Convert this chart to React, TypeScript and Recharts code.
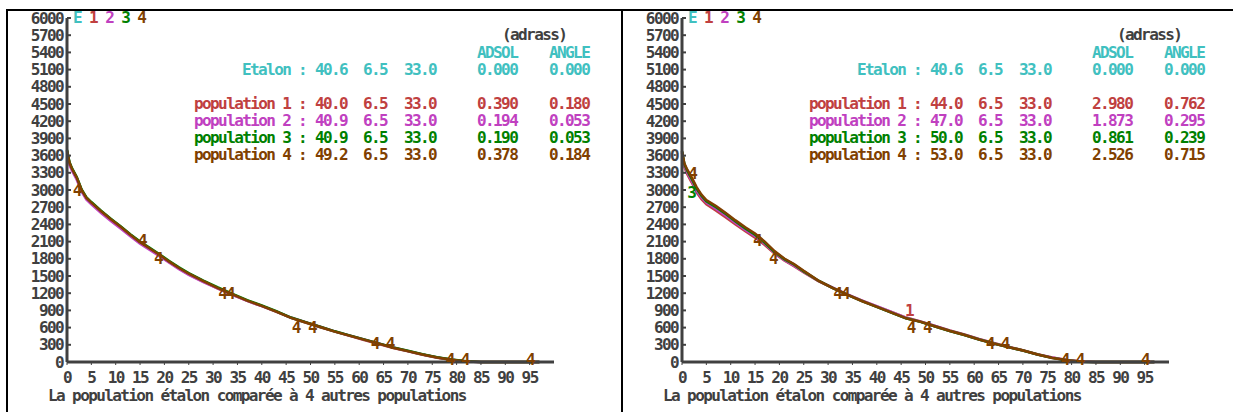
import React from "react";
import { ComposedChart, Line, Scatter, XAxis, YAxis } from "recharts";

const X = [0, 0.5, 1, 2, 3, 4, 5, 7, 9, 11, 13, 15, 17, 19, 21, 23, 25, 28, 31, 34, 37, 40, 43, 46, 49, 52, 55, 58, 61, 64, 67, 70, 73, 76, 79, 82, 85, 90, 97];

// left panel (4 populations almost identical to the etalon)
const L_E = [3690, 3480, 3374, 3217, 3000, 2860, 2780, 2630, 2490, 2360, 2220, 2090, 1980, 1870, 1750, 1640, 1540, 1410, 1290, 1180, 1070, 980, 880, 770, 690, 610, 530, 460, 390, 320, 250, 190, 130, 80, 40, 10, 0, 0, 0];
const L_P1 = [3680, 3470, 3360, 3200, 2990, 2850, 2770, 2620, 2480, 2350, 2210, 2080, 1970, 1860, 1740, 1630, 1530, 1400, 1280, 1170, 1065, 975, 875, 770, 690, 605, 530, 455, 385, 315, 245, 185, 125, 75, 35, 8, 0, 0, 0];
const L_P2 = [3660, 3440, 3340, 3180, 2970, 2830, 2750, 2600, 2460, 2330, 2195, 2065, 1955, 1845, 1730, 1620, 1520, 1395, 1280, 1170, 1065, 975, 880, 775, 695, 615, 535, 462, 392, 322, 252, 192, 132, 80, 40, 10, 0, 0, 0];
const L_P3 = [3700, 3490, 3385, 3225, 3010, 2870, 2790, 2640, 2500, 2370, 2230, 2100, 1990, 1880, 1760, 1650, 1550, 1420, 1300, 1190, 1080, 985, 885, 775, 695, 615, 535, 465, 395, 325, 255, 195, 135, 82, 42, 12, 0, 0, 0];
const L_P4 = [3690, 3480, 3374, 3217, 3000, 2860, 2780, 2630, 2490, 2360, 2220, 2090, 1980, 1870, 1750, 1640, 1540, 1410, 1290, 1180, 1070, 980, 880, 770, 690, 610, 530, 460, 390, 320, 250, 190, 130, 80, 40, 10, 0, 0, 0];

// right panel
const R_E = [3670, 3445, 3350, 3195, 3025, 2900, 2805, 2700, 2580, 2450, 2330, 2220, 2080, 1920, 1795, 1700, 1580, 1418, 1290, 1170, 1062, 962, 862, 762, 700, 620, 540, 470, 392, 322, 260, 200, 130, 72, 32, 6, 0, 0, 0];
const R_P1 = [3650, 3400, 3290, 3130, 2960, 2840, 2750, 2640, 2520, 2400, 2280, 2170, 2040, 1890, 1770, 1670, 1560, 1410, 1290, 1175, 1070, 970, 875, 775, 705, 630, 550, 480, 400, 330, 265, 205, 135, 80, 35, 8, 0, 0, 0];
const R_P2 = [3660, 3420, 3320, 3160, 2990, 2870, 2780, 2670, 2550, 2425, 2305, 2195, 2060, 1905, 1780, 1680, 1570, 1415, 1295, 1178, 1072, 972, 872, 772, 705, 628, 548, 478, 398, 328, 262, 202, 132, 78, 36, 8, 0, 0, 0];
const R_P3 = [3670, 3445, 3350, 3195, 3025, 2900, 2805, 2700, 2580, 2450, 2330, 2220, 2080, 1920, 1795, 1700, 1580, 1418, 1290, 1170, 1062, 962, 862, 762, 700, 620, 540, 470, 392, 322, 260, 200, 130, 72, 32, 6, 0, 0, 0];
const R_P4 = [3680, 3460, 3370, 3220, 3050, 2920, 2825, 2720, 2600, 2470, 2350, 2240, 2100, 1935, 1805, 1710, 1590, 1420, 1290, 1170, 1060, 960, 860, 760, 700, 620, 540, 470, 390, 320, 260, 200, 130, 70, 30, 5, 0, 0, 0];

// curve labels drawn by the old plotter
const L_MARK_X = [2.0, 15.4, 18.7, 31.9, 33.5, 47.0, 50.3, 63.2, 66.3, 78.6, 81.7, 95.1];
const L_MARK_Y = [2991, 2122, 1809, 1200, 1200, 609, 609, 330, 330, 35, 35, 35];
const L_MARK_T = ["4", "4", "4", "4", "4", "4", "4", "4", "4", "4", "4", "4"];
const R_MARK_X = [2.1, 1.9, 15.4, 18.7, 31.9, 33.5, 46.6, 47.0, 50.3, 63.2, 66.3, 78.6, 81.7, 95.1];
const R_MARK_Y = [3287, 2956, 2122, 1809, 1200, 1200, 904, 609, 609, 330, 330, 35, 35, 35];
const R_MARK_T = ["4", "3", "4", "4", "4", "4", "1", "4", "4", "4", "4", "4", "4", "4"];

const Y_TICKS = [0, 300, 600, 900, 1200, 1500, 1800, 2100, 2400, 2700, 3000, 3300, 3600, 3900, 4200, 4500, 4800, 5100, 5400, 5700, 6000];
const X_TICKS = [0, 5, 10, 15, 20, 25, 30, 35, 40, 45, 50, 55, 60, 65, 70, 75, 80, 85, 90, 95];

const NAMES = ["Etalon", "population 1", "population 2", "population 3", "population 4"];
const L_COL1 = ["40.6", "40.0", "40.9", "40.9", "49.2"];
const R_COL1 = ["40.6", "44.0", "47.0", "50.0", "53.0"];
const COL2 = ["6.5", "6.5", "6.5", "6.5", "6.5"];
const COL3 = ["33.0", "33.0", "33.0", "33.0", "33.0"];
const L_ADSOL = ["0.000", "0.390", "0.194", "0.190", "0.378"];
const L_ANGLE = ["0.000", "0.180", "0.053", "0.053", "0.184"];
const R_ADSOL = ["0.000", "2.980", "1.873", "0.861", "2.526"];
const R_ANGLE = ["0.000", "0.762", "0.295", "0.239", "0.715"];

const COLORS = ["#40c0c0", "#c04040", "#c040c0", "#008000", "#804000"];
const GRAY = "#404040";
const FONT = { fontFamily: "'DejaVu Sans Mono', monospace", fontWeight: 700, fontSize: 16, letterSpacing: -1.6 };

function YTick({ x, y, payload }: any) {
  return (
    <g>
      <text x={x} y={y} dy={5.5} textAnchor="end" fill={GRAY} style={FONT}>{payload.value}</text>
      <line x1={x + 4} x2={x + 8} y1={y} y2={y} stroke={GRAY} strokeWidth={2} />
    </g>
  );
}

function XTick({ x, y, payload }: any) {
  return (
    <text x={x} y={y} dy={18} textAnchor="middle" fill={GRAY} style={FONT}>{payload.value}</text>
  );
}

function Mark({ cx, cy, payload }: any) {
  return (
    <text x={cx} y={cy} dy={5.5} textAnchor="middle" fill={payload.c} style={FONT}>{payload.t}</text>
  );
}

function Txt({ x, y, color, children }: { x: number; y: number; color: string; children: React.ReactNode }) {
  return (
    <div style={{ position: "absolute", left: x, top: y - 9, lineHeight: "18px", whiteSpace: "pre", color, ...FONT, fontSize: 16 }}>
      {children}
    </div>
  );
}

const ROW_Y = [70, 104, 121, 138, 155];

function Panel({ left, series, mx, my, mt, col1, adsol, angle }: any) {
  const data = X.map((x, i) => ({ x, e: series[0][i], p1: series[1][i], p2: series[2][i], p3: series[3][i], p4: series[4][i] }));
  const marks = mx.map((x: number, i: number) => ({ x, y: my[i], t: mt[i], c: COLORS[mt[i] === "E" ? 0 : Number(mt[i])] }));
  const keys = ["e", "p1", "p2", "p3", "p4"];
  return (
    <div style={{ position: "absolute", left, top: 0, width: 615, height: 412 }}>
      <ComposedChart width={615} height={412} data={data} margin={{ top: 18, right: 61, bottom: 20, left: 0 }}>
        <XAxis dataKey="x" type="number" domain={[0, 100]} ticks={X_TICKS} interval={0} height={30}
          axisLine={{ stroke: GRAY, strokeWidth: 3 }} tickLine={{ stroke: GRAY, strokeWidth: 1 }} tickSize={3} tickMargin={0} tick={<XTick />} />
        <YAxis type="number" domain={[0, 6000]} ticks={Y_TICKS} interval={0} width={67}
          axisLine={{ stroke: GRAY, strokeWidth: 3 }} tickLine={false} tickSize={0} tickMargin={4} tick={<YTick />} />
        {keys.map((k, i) => (
          <Line key={k} dataKey={k} type="linear" stroke={COLORS[i]} strokeWidth={2.5} dot={false} isAnimationActive={false} />
        ))}
        <Scatter data={marks} dataKey="y" shape={<Mark />} isAnimationActive={false} />
      </ComposedChart>

      <div style={{ position: "absolute", left: 73, top: 9, lineHeight: "18px", whiteSpace: "pre", ...FONT }}>
        {["E", "1", "2", "3", "4"].map((s, i) => (
          <span key={s} style={{ color: COLORS[i] }}>{s + (i < 4 ? " " : "")}</span>
        ))}
      </div>

      <Txt x={502} y={35} color={GRAY}>(adrass)</Txt>
      <Txt x={477} y={53} color={COLORS[0]}>ADSOL</Txt>
      <Txt x={549} y={53} color={COLORS[0]}>ANGLE</Txt>
      {NAMES.map((n, i) => (
        <React.Fragment key={n}>
          <Txt x={i === 0 ? 242 : 194} y={ROW_Y[i]} color={COLORS[i]}>{n}</Txt>
          <Txt x={298} y={ROW_Y[i]} color={COLORS[i]}>:</Txt>
          <Txt x={315} y={ROW_Y[i]} color={COLORS[i]}>{col1[i]}</Txt>
          <Txt x={363} y={ROW_Y[i]} color={COLORS[i]}>{COL2[i]}</Txt>
          <Txt x={404} y={ROW_Y[i]} color={COLORS[i]}>{COL3[i]}</Txt>
          <Txt x={477} y={ROW_Y[i]} color={COLORS[i]}>{adsol[i]}</Txt>
          <Txt x={549} y={ROW_Y[i]} color={COLORS[i]}>{angle[i]}</Txt>
        </React.Fragment>
      ))}

      <Txt x={48} y={396} color={GRAY}>La population étalon comparée à 4 autres populations</Txt>
    </div>
  );
}

export default function App() {
  return (
    <div style={{ position: "absolute", left: 0, top: 0, width: 1233, height: 412, background: "#fff", overflow: "hidden" }}>
      <Panel left={0} series={[L_E, L_P1, L_P2, L_P3, L_P4]} mx={L_MARK_X} my={L_MARK_Y} mt={L_MARK_T}
        col1={L_COL1} adsol={L_ADSOL} angle={L_ANGLE} />
      <Panel left={615} series={[R_E, R_P1, R_P2, R_P3, R_P4]} mx={R_MARK_X} my={R_MARK_Y} mt={R_MARK_T}
        col1={R_COL1} adsol={R_ADSOL} angle={R_ANGLE} />
      <div style={{ position: "absolute", left: 7, top: 9, width: 1226, height: 2, background: "#000" }} />
      <div style={{ position: "absolute", left: 6, top: 9, width: 2, height: 403, background: "#000" }} />
      <div style={{ position: "absolute", left: 621, top: 9, width: 2, height: 403, background: "#000" }} />
    </div>
  );
}
